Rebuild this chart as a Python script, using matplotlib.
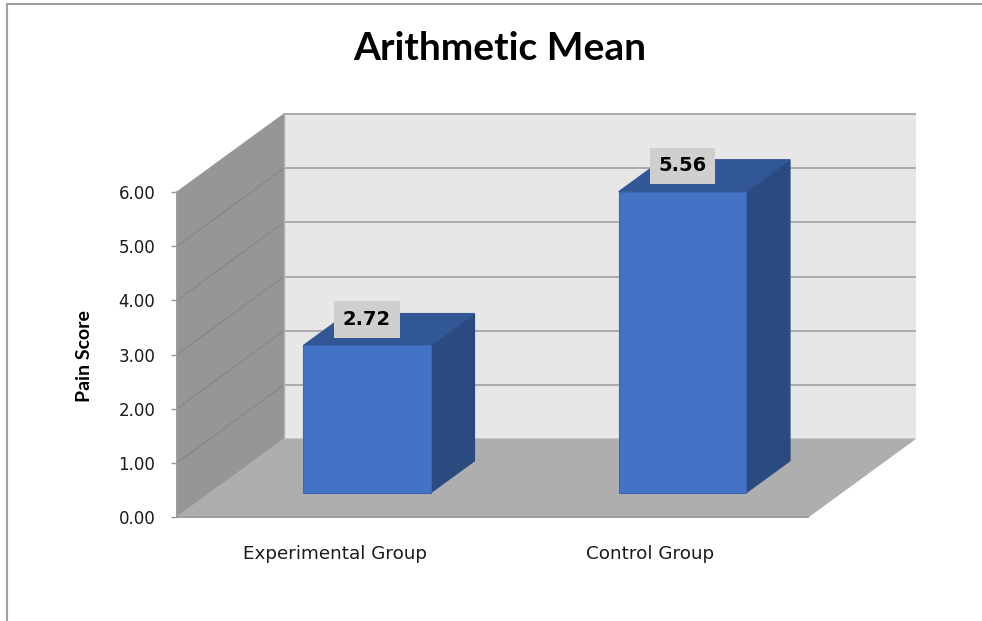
#!/usr/bin/env python3
# -*- coding: utf-8 -*-
import matplotlib
matplotlib.use("Agg")
import matplotlib.pyplot as plt
from matplotlib.lines import Line2D

groups = ["Experimental Group", "Control Group"]
means = [2.72, 5.56]
y_ticks = [0, 1, 2, 3, 4, 5, 6]

W, H = 982, 621

# pseudo 3d: how far one unit of depth moves a point, in data units
DEPTH_X = 0.339
DEPTH_Y = 1.44
BAR_WIDTH = 0.404
BAR_NEAR = 0.31
BAR_FAR = 0.72
BAR_SHIFT = -0.003


def proj(x, y, d):
    return x + d * DEPTH_X, y + d * DEPTH_Y


def face(ax, corners, color, edge=None, z=1):
    pts = [proj(*c) for c in corners]
    ax.fill([p[0] for p in pts], [p[1] for p in pts], facecolor=color,
            edgecolor=edge if edge else color, linewidth=0.8, zorder=z, clip_on=False)


def line3d(ax, a, b, color, lw=1.3, z=2):
    pa, pb = proj(*a), proj(*b)
    ax.plot([pa[0], pb[0]], [pa[1], pb[1]], color=color, lw=lw, zorder=z, clip_on=False)


fig = plt.figure(figsize=(W / 100, H / 100), dpi=100)
ax = fig.add_axes([177 / W, 1 - 517 / H, (808 - 177) / W, (517 - 192) / H])
ax.set_xlim(0, 2)
ax.set_ylim(0, 6)
ax.patch.set_visible(False)

top = y_ticks[-1]

# walls and floor
face(ax, [(0, 0, 1), (2, 0, 1), (2, top, 1), (0, top, 1)], "#e7e7e7")
face(ax, [(0, 0, 0), (0, 0, 1), (0, top, 1), (0, top, 0)], "#969696")
face(ax, [(0, 0, 0), (2, 0, 0), (2, 0, 1), (0, 0, 1)], "#aeaeae")

for v in y_ticks[1:]:
    line3d(ax, (0, v, 1), (2, v, 1), "#a6a6a6")
    if v < top:
        line3d(ax, (0, v, 0), (0, v, 1), "#868686", lw=0.8)
line3d(ax, (0, 0, 1), (0, top, 1), "#b0b0b0", lw=1.0)

# bars: side and top faces first, then the front
for i, val in enumerate(means):
    left = i + 0.5 + BAR_SHIFT - BAR_WIDTH / 2
    right = i + 0.5 + BAR_SHIFT + BAR_WIDTH / 2
    face(ax, [(right, 0, BAR_NEAR), (right, 0, BAR_FAR), (right, val, BAR_FAR), (right, val, BAR_NEAR)],
         "#2a4a80", z=3)
    face(ax, [(left, val, BAR_NEAR), (right, val, BAR_NEAR), (right, val, BAR_FAR), (left, val, BAR_FAR)],
         "#325796", z=3)
    x0, y0 = proj(i + 0.5 + BAR_SHIFT, 0, BAR_NEAR)
    ax.bar(x0, val, BAR_WIDTH, bottom=y0, color="#4472c4", edgecolor="#3a66b4",
           linewidth=0.8, zorder=4, clip_on=False)
    ax.annotate(f"{val:.2f}", xy=(x0, y0 + val), xytext=(0, 26 * 0.72), textcoords="offset points",
                ha="center", va="center", fontsize=14, fontweight="bold", family="DejaVu Sans",
                color="black", zorder=6,
                bbox=dict(boxstyle="square,pad=0.44", facecolor="#d0cece", edgecolor="none"))

# axes
for side in ["top", "right", "bottom"]:
    ax.spines[side].set_visible(False)
ax.spines["left"].set_color("#9a9a9a")
ax.spines["left"].set_linewidth(1.3)
ax.spines["left"].set_zorder(5)
ax.add_line(Line2D([0, 2], [0, 0], color="#9a9a9a", lw=1.3, zorder=5, clip_on=False))

ax.set_yticks(y_ticks)
ax.set_yticklabels([f"{v:.2f}" for v in y_ticks], fontsize=12, family="DejaVu Sans", color="#1a1a1a")
ax.tick_params(axis="y", length=4.5, width=1.0, color="#9a9a9a", pad=11)
ax.set_xticks([0.5, 1.5])
ax.set_xticklabels(groups, fontsize=13.2, family="DejaVu Sans", color="#1a1a1a")
ax.tick_params(axis="x", length=0, pad=20)

fig.text(84 / W, 1 - 356 / H, "Pain Score", rotation=90, ha="center", va="center",
         fontsize=14, fontweight="bold", family="Lato", color="black")
fig.text(500 / W, 1 - 48 / H, "Arithmetic Mean", ha="center", va="center",
         fontsize=28, fontweight="bold", family="Lato", color="black")

# outer frame of the chart area
for xs, ys in [([7, W], [4, 4]), ([7, 7], [4, H])]:
    fig.add_artist(Line2D([x / W for x in xs], [1 - y / H for y in ys], color="#a0a0a0", lw=1.5))

fig.savefig("out.png", dpi=100)
